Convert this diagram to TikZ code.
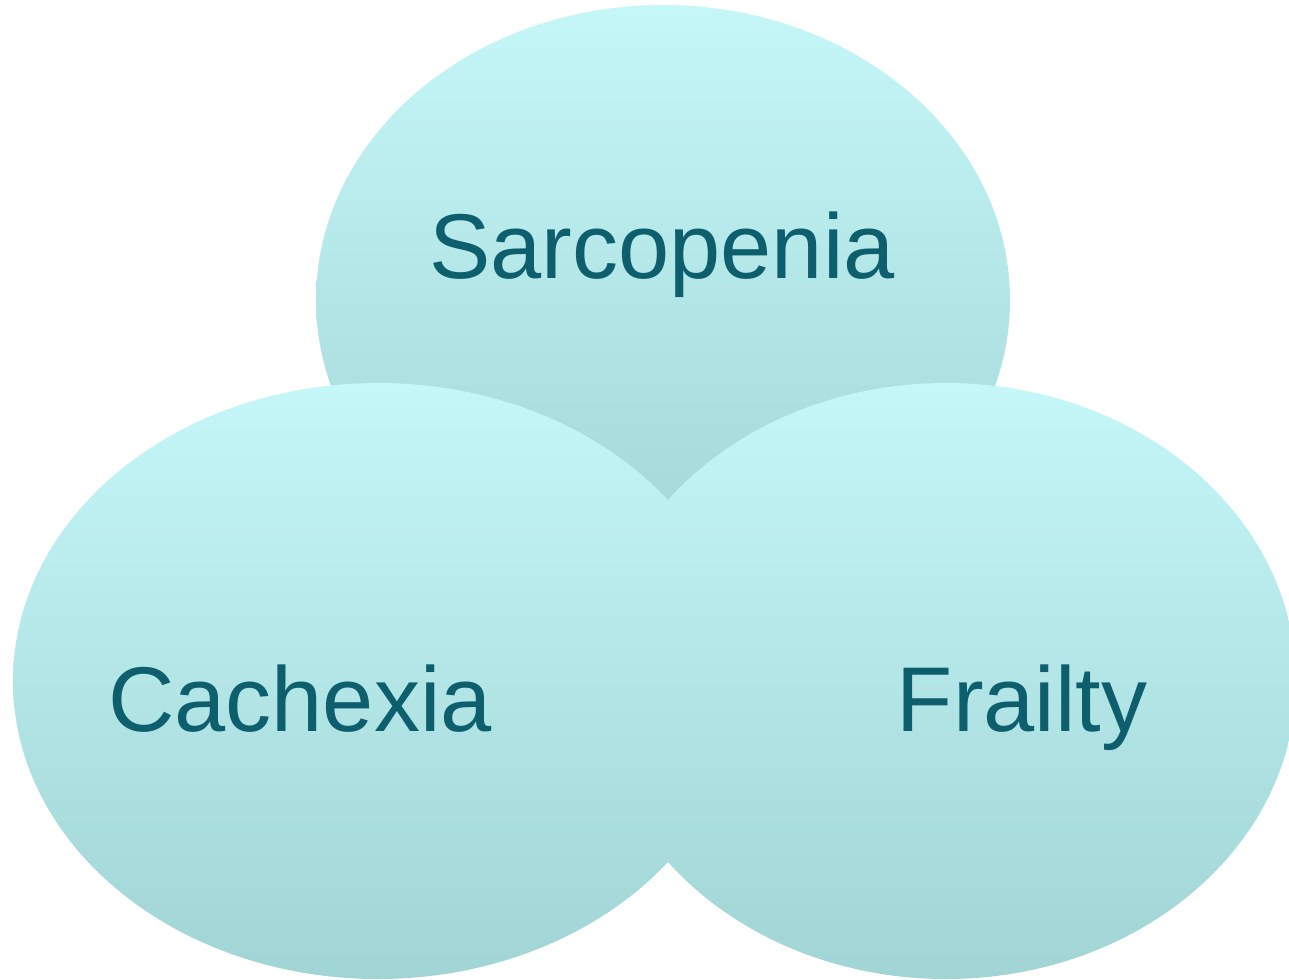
\documentclass[tikz,border=0pt]{standalone}
\usepackage{fontspec}
\setmainfont{Liberation Sans}
\definecolor{lighttop}{RGB}{197,247,249}
\definecolor{darkbot}{RGB}{161,212,212}
\definecolor{labelcol}{RGB}{13,95,110}
\tikzset{
  blob/.style={top color=lighttop, bottom color=darkbot, draw=none},
  lbl/.style={anchor=base, text=labelcol, font=\fontsize{92}{100}\selectfont, inner sep=0pt}
}
\begin{document}
\begin{tikzpicture}[x=1pt,y=-1pt]
\useasboundingbox (0,0) rectangle (1289,979);
\begin{scope}
\clip (0,0) rectangle (1289,979);
\shade[blob] (663,300) ellipse [x radius=347, y radius=295];
\shade[blob] (378,681) ellipse [x radius=365, y radius=298];
\shade[blob] (946,681) ellipse [x radius=350, y radius=298];
\end{scope}
\node[lbl] (sarc) at (662,278) {Sarcopenia};
\node[lbl] (cach) at (300,731) {Cachexia};
\node[lbl] (frail) at (1022,731) {Frailty};
\end{tikzpicture}
\end{document}
